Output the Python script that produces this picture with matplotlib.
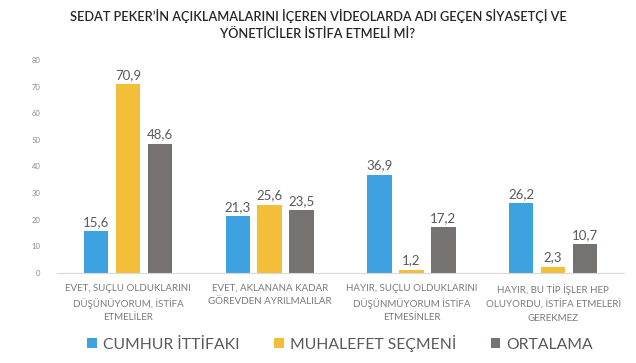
import matplotlib
matplotlib.use("Agg")
import matplotlib.pyplot as plt
import numpy as np
from matplotlib.patches import Patch

plt.rcParams['font.family'] = ['Lato', 'DejaVu Sans']

categories = [
    "EVET, SUÇLU OLDUKLARINI\nDÜŞÜNÜYORUM, İSTİFA\nETMELİLER",
    "EVET, AKLANANA KADAR\nGÖREVDEN AYRILMALILAR",
    "HAYIR, SUÇLU OLDUKLARINI\nDÜŞÜNMÜYORUM İSTİFA\nETMESİNLER",
    "HAYIR, BU TİP İŞLER HEP\nOLUYORDU, İSTİFA ETMELERİ\nGEREKMEZ",
]
series_names = ["CUMHUR İTTİFAKI", "MUHALEFET SEÇMENİ", "ORTALAMA"]
cumhur = [15.6, 21.3, 36.9, 26.2]
muhalefet = [70.9, 25.6, 1.2, 2.3]
ortalama = [48.6, 23.5, 17.2, 10.7]
yticks = [0, 10, 20, 30, 40, 50, 60, 70, 80]
title = "SEDAT PEKER’İN AÇIKLAMALARINI İÇEREN VİDEOLARDA ADI GEÇEN SİYASETÇİ VE\nYÖNETİCİLER İSTİFA ETMELİ Mİ?"

colors = ["#3EA1E0", "#F3BF3A", "#767272"]

fig = plt.figure(figsize=(6.36, 3.63), dpi=100)
ax = fig.add_axes([0.09, 0.248, 0.891, 0.587])

x = np.arange(len(categories))
width = 0.173
pitch = 0.225
for i, (vals, col) in enumerate(zip([cumhur, muhalefet, ortalama], colors)):
    pos = x + (i - 1) * pitch
    bars = ax.bar(pos, vals, width=width, color=col)
    for b, v in zip(bars, vals):
        ax.text(b.get_x() + b.get_width() / 2, v + 1.2, f"{v:.1f}".replace(".", ","),
                ha="center", va="bottom", fontsize=9.5, color="#595959")

ax.set_xlim(-0.5, 3.5)
ax.set_ylim(0, 80)
ax.set_yticks(yticks)
ax.set_yticklabels([str(t) for t in yticks], fontsize=5.5, color="#8a8a8a")
ax.set_xticks(x)
ax.set_xticklabels(categories, fontsize=7, color="#7a7a7a", linespacing=1.6)
ax.tick_params(axis="both", length=0)
ax.tick_params(axis="y", pad=12)
ax.tick_params(axis="x", pad=8)
for s in ["top", "right", "left"]:
    ax.spines[s].set_visible(False)
ax.spines["bottom"].set_color("#d9d9d9")
ax.spines["bottom"].set_linewidth(0.8)

fig.text(0.5, 0.975, title, ha="center", va="top", fontsize=9.2, fontweight="semibold",
         color="#262626", linespacing=1.45)

handles = [Patch(facecolor=c, edgecolor="none") for c in colors]
fig.legend(handles, series_names, loc="center", bbox_to_anchor=(0.535, 0.055),
           ncol=3, frameon=False, fontsize=11.3, labelcolor="#595959",
           handlelength=0.6, handleheight=0.6, handletextpad=0.4, columnspacing=2.2)

fig.savefig("out.png", dpi=100)
